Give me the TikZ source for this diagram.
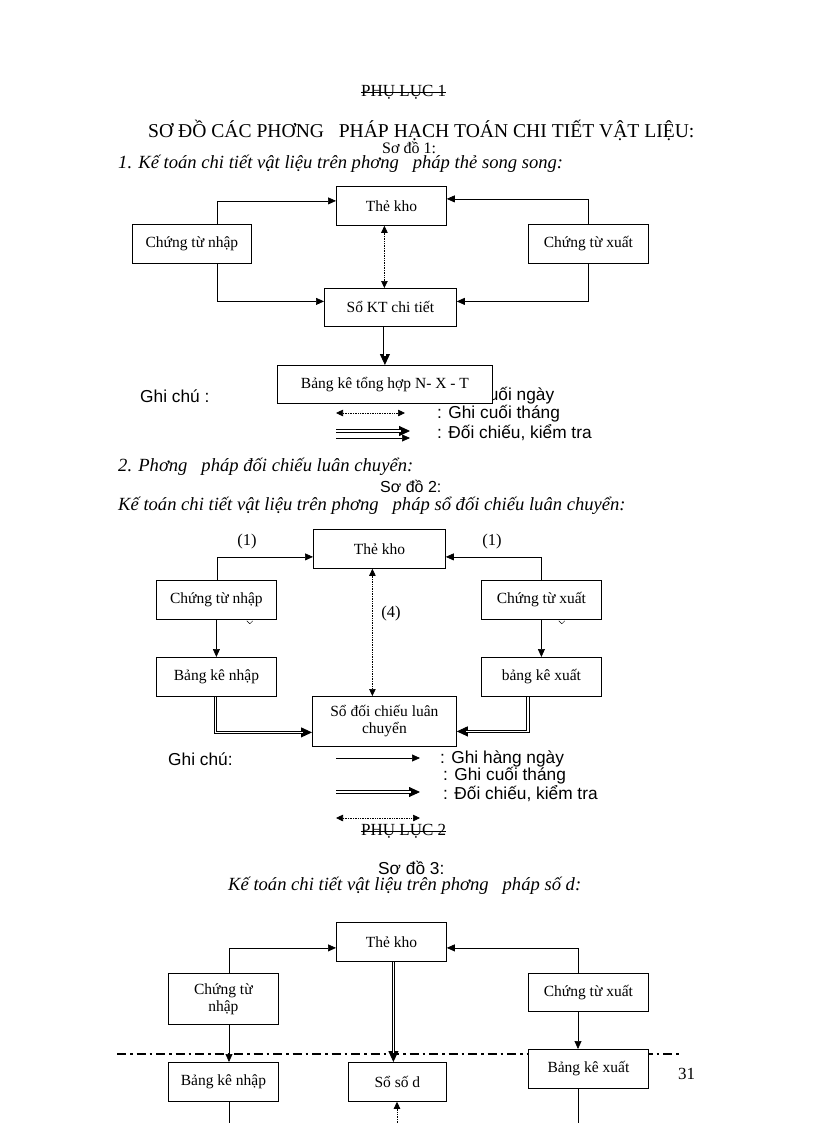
\documentclass[tikz,border=0pt]{standalone}
\usepackage{fontspec}
\setmainfont{Liberation Serif}
\newfontfamily\sansf{Liberation Sans}
\usetikzlibrary{arrows.meta}
\begin{document}
\begin{tikzpicture}[x=1pt,y=-1pt,
  box/.style={draw, line width=0.8pt, fill=white, inner sep=1pt, font=\fontsize{15.5}{17}\selectfont, align=center, anchor=north west},
  arr/.style={line width=0.7pt, -{Triangle[length=8pt,width=7pt]}},
  dotarr/.style={line width=0.7pt, densely dotted, {Triangle[length=7pt,width=6.5pt]}-{Triangle[length=7pt,width=6.5pt]}},
  dbl/.style={double, double distance=1.3pt, line width=0.9pt, shorten >=9pt},
  dbltip/.style={line width=0.9pt, -{Triangle[length=11pt,width=10pt]}},
  txt/.style={inner sep=0pt, anchor=west},
  head/.style={txt, font=\fontsize{19.6}{22}\selectfont},
  ital/.style={txt, font=\fontsize{18.6}{21}\selectfont\itshape},
  note/.style={txt, font=\sansf\fontsize{17.3}{19}\selectfont},
  lbl/.style={inner sep=0pt, font=\fontsize{16.5}{18}\selectfont},
  strike/.style={line width=0.8pt},
]
\useasboundingbox (0,0) rectangle (816,1123);
\fill[white] (0,0) rectangle (816,1123);

% ---------- header ----------
\node[txt, font=\fontsize{17}{19}\selectfont] (pl1) at (361,92) {PHỤ LỤC 1};
\draw[strike] ([yshift=4pt]pl1.base west) -- ([yshift=4pt]pl1.base east);
\node[head] (h1) at (148,130) {SƠ ĐỒ CÁC PHƠNG \ \ PHÁP HẠCH TOÁN CHI TIẾT VẬT LIỆU:};
\node[txt, font=\fontsize{16}{18}\selectfont] (sd1) at (382,148) {Sơ đồ 1:};
\node[ital] (t1) at (118,164) {1. Kế toán chi tiết vật liệu trên phơng \ \ pháp thẻ song song:};

% ---------- diagram 1 ----------
\node[note] (n1a) at (437,396) {: Ghi cuối ngày};
\node[box, minimum width=110pt, minimum height=39pt] (tk1) at (336,186) {Thẻ kho};
\node[box, minimum width=119pt, minimum height=39pt] (ctn1) at (132,224) {Chứng từ nhập};
\node[box, minimum width=120pt, minimum height=39pt] (ctx1) at (528,224) {Chứng từ xuất};
\node[box, minimum width=132pt, minimum height=38pt] (skt1) at (324,288) {Sổ KT chi tiết};
\node[box, minimum width=215pt, minimum height=38pt] (bk1) at (277,365) {Bảng kê tổng hợp N- X - T};

\draw[arr] ([xshift=85pt]ctn1.north west) |- ([yshift=5pt]tk1.west);
\draw[arr] ([xshift=60pt]ctx1.north west) |- ([yshift=7pt]tk1.east);
\draw[arr] ([xshift=85pt]ctn1.south west) |- ([yshift=6pt]skt1.west);
\draw[arr] ([xshift=60pt]ctx1.south west) |- ([yshift=6pt]skt1.east);
\draw[dotarr] ([xshift=-7pt]tk1.south) -- ([xshift=-7pt]tk1.south |- skt1.north);
\draw[dbltip] (bk1.north |- skt1.south) -- (bk1.north);
\draw[dbl] (bk1.north |- skt1.south) -- (bk1.north);

% legend 1
\node[note] (gc1) at (140,396) {Ghi chú :};
\node[note] (n1b) at (437,414) {: Ghi cuối tháng};
\node[note] (n1c) at (437,433) {: Đối chiếu, kiểm tra};
\coordinate (l1a) at (336,413); \coordinate (l1b) at (405,413);
\coordinate (l1c) at (336,431); \coordinate (l1d) at (410,431);
\coordinate (l1e) at (336,438); \coordinate (l1f) at (410,438);
\draw[dotarr] (l1a) -- (l1b);
\draw[dbltip] (l1c) -- (l1d);
\draw[dbl] (l1c) -- (l1d);
\draw[arr] (l1e) -- (l1f);

% ---------- section 2 ----------
\node[ital] (t2) at (118,467) {2. Phơng \ \ pháp đối chiếu luân chuyển:};
\node[note, font=\sansf\fontsize{16}{18}\selectfont] (sd2) at (380,486) {Sơ đồ 2:};
\node[ital] (t2b) at (118,506) {Kế toán chi tiết vật liệu trên phơng \ \ pháp sổ đối chiếu luân chuyển:};

\node[box, minimum width=132pt, minimum height=39pt] (tk2) at (313,529) {Thẻ kho};
\node[box, minimum width=120pt, minimum height=39pt] (ctn2) at (156,580) {Chứng từ nhập};
\node[box, minimum width=120pt, minimum height=39pt] (ctx2) at (481,580) {Chứng từ xuất};
\node[box, minimum width=120pt, minimum height=39pt] (bkn2) at (156,657) {Bảng kê nhập};
\node[box, minimum width=120pt, minimum height=39pt] (bkx2) at (481,657) {bảng kê xuất};
\node[box, minimum width=144pt, minimum height=50pt] (sdc2) at (312,696) {Sổ đối chiếu luân\\chuyển};
\node[lbl] (p1a) at (247,542) {(1)};
\node[lbl] (p1b) at (492,542) {(1)};
\node[lbl] (p4) at (391,614) {(4)};
% fragments of hidden labels under the document boxes
\draw[line width=0.5pt] ([xshift=-30pt,yshift=-1pt]ctn2.south east) arc[start angle=200, end angle=250, radius=5pt];
\draw[line width=0.5pt] ([xshift=-24pt,yshift=-1pt]ctn2.south east) arc[start angle=-20, end angle=-70, radius=5pt];
\draw[line width=0.5pt] ([xshift=-43pt,yshift=-1pt]ctx2.south east) arc[start angle=200, end angle=250, radius=5pt];
\draw[line width=0.5pt] ([xshift=-37pt,yshift=-1pt]ctx2.south east) arc[start angle=-20, end angle=-70, radius=5pt];

\draw[arr] ([xshift=61pt]ctn2.north west) |- ([yshift=-8pt]tk2.west);
\draw[arr] ([xshift=60pt]ctx2.north west) |- ([yshift=-8pt]tk2.east);
\draw[arr] (ctn2.south) -- (bkn2.north);
\draw[arr] (ctx2.south) -- (bkx2.north);
\draw[dotarr] ([xshift=-7pt]tk2.south) -- ([xshift=-7pt]tk2.south |- sdc2.north);
\draw[dbltip] ([xshift=-1pt]bkn2.south) |- ([yshift=-11pt]sdc2.west);
\draw[dbl] ([xshift=-1pt]bkn2.south) |- ([yshift=-11pt]sdc2.west);
\draw[dbltip] ([xshift=47pt]bkx2.south west) |- ([yshift=-10pt]sdc2.east);
\draw[dbl] ([xshift=47pt]bkx2.south west) |- ([yshift=-10pt]sdc2.east);

% legend 2
\node[note] (gc2) at (168,759) {Ghi chú:};
\node[note] (n2a) at (440,759) {: Ghi hàng ngày};
\node[note] (n2b) at (443,776) {: Ghi cuối tháng};
\node[note] (n2c) at (443,794) {: Đối chiếu, kiểm tra};
\coordinate (l2a) at (336,758); \coordinate (l2b) at (420,758);
\coordinate (l2c) at (336,792); \coordinate (l2d) at (420,792);
\coordinate (l2e) at (336,818); \coordinate (l2f) at (420,818);
\draw[arr] (l2a) -- (l2b);
\draw[dbltip] (l2c) -- (l2d);
\draw[dbl] (l2c) -- (l2d);
\draw[dotarr] (l2e) -- (l2f);

\node[txt, font=\fontsize{17}{19}\selectfont] (pl2) at (361,831) {PHỤ LỤC 2};
\draw[strike] ([yshift=4pt]pl2.base west) -- ([yshift=4pt]pl2.base east);

% ---------- section 3 ----------
\node[note] (sd3) at (378,868) {Sơ đồ 3:};
\node[ital] (t3) at (228,886) {Kế toán chi tiết vật liệu trên phơng \ \ pháp số d:};

\coordinate (dl1) at (117,1054); \coordinate (dl2) at (682,1054);
\draw[line width=1.4pt, dash pattern=on 9pt off 4pt on 2.5pt off 4pt] (dl1) -- (dl2);

\node[box, minimum width=110pt, minimum height=39pt] (tk3) at (336,922) {Thẻ kho};
\node[box, minimum width=110pt, minimum height=51pt] (ctn3) at (168,973) {Chứng từ\\nhập};
\node[box, minimum width=120pt, minimum height=38pt] (ctx3) at (528,973) {Chứng từ xuất};
\node[box, minimum width=110pt, minimum height=39pt] (bkn3) at (168,1062) {Bảng kê nhập};
\node[box, minimum width=98pt, minimum height=39pt] (ssd3) at (348,1062) {Sổ số d};
\node[box, minimum width=120pt, minimum height=39pt] (bkx3) at (528,1049) {Bảng kê xuất};
\node[txt, font=\fontsize{17}{19}\selectfont] (pg) at (678,1074) {31};

\coordinate (b1) at (229,1123); \coordinate (b2) at (397,1123); \coordinate (b3) at (578,1123);
\draw[arr] ([xshift=61pt]ctn3.north west) |- ([yshift=-6pt]tk3.west);
\draw[arr] ([xshift=50pt]ctx3.north west) |- ([yshift=-6pt]tk3.east);
\draw[arr] ([xshift=61pt]ctn3.south west) -- ([xshift=61pt]bkn3.north west);
\draw[arr] ([xshift=50pt]ctx3.south west) -- ([xshift=50pt]bkx3.north west);
\draw[dbltip] ([xshift=2pt]tk3.south) -- ([xshift=2pt]tk3.south |- ssd3.north);
\draw[dbl] ([xshift=2pt]tk3.south) -- ([xshift=2pt]tk3.south |- ssd3.north);
\draw[line width=0.7pt] ([xshift=61pt]bkn3.south west) -- (b1);
\draw[line width=0.7pt] ([xshift=50pt]bkx3.south west) -- (b3);
\draw[line width=0.7pt, densely dotted, -{Triangle[length=7pt,width=6.5pt]}] (b2) -- (b2 |- ssd3.south);
\end{tikzpicture}
\end{document}
